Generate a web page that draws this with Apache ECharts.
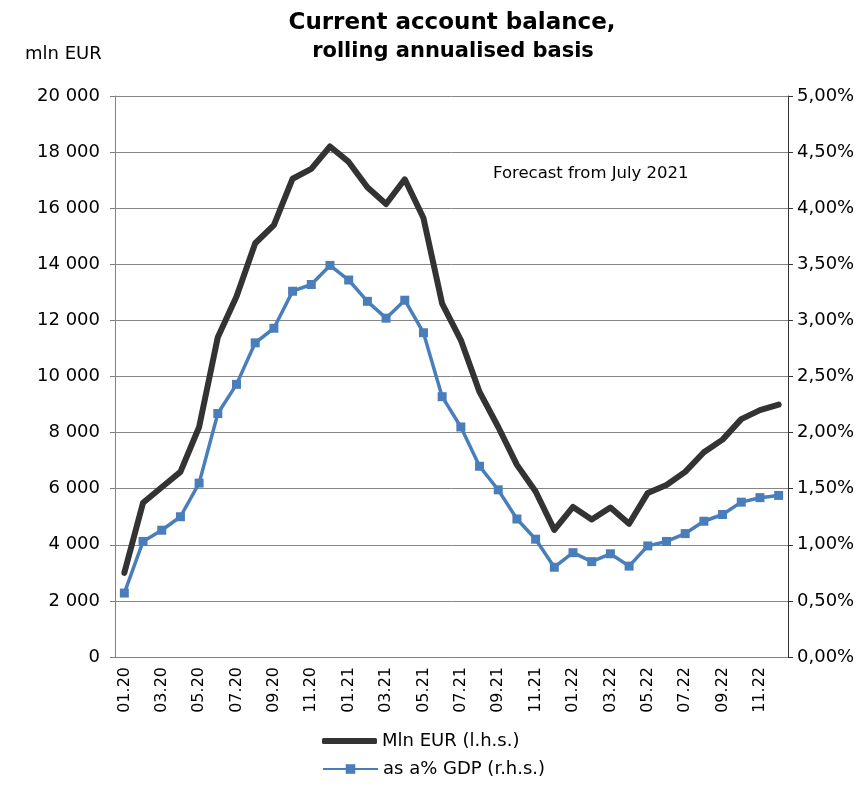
<!DOCTYPE html>
<html>
<head>
<meta charset="utf-8">
<script src="https://cdn.jsdelivr.net/npm/echarts@6/dist/echarts.min.js"></script>
<style>
  html, body { margin: 0; padding: 0; background: #fff; }
  #chart { width: 862px; height: 786px; }
</style>
</head>
<body>
<div id="chart"></div>
<script>
// Monthly periods, Jan 2020 – Dec 2022
const months = [
  '01.20','02.20','03.20','04.20','05.20','06.20','07.20','08.20','09.20','10.20','11.20','12.20',
  '01.21','02.21','03.21','04.21','05.21','06.21','07.21','08.21','09.21','10.21','11.21','12.21',
  '01.22','02.22','03.22','04.22','05.22','06.22','07.22','08.22','09.22','10.22','11.22','12.22'
];

// Current account balance, mln EUR (left axis)
const balanceMlnEur = [
  3000, 5500, 6050, 6600, 8200, 11400, 12850, 14750, 15400, 17050, 17400, 18200,
  17650, 16750, 16150, 17030, 15650, 12600, 11300, 9450, 8200, 6850, 5900, 4530,
  5350, 4900, 5330, 4750, 5850, 6130, 6600, 7300, 7750, 8480, 8800, 9000
];

// Current account balance as % of GDP (right axis)
const balancePctGdp = [
  0.57, 1.03, 1.13, 1.25, 1.55, 2.17, 2.43, 2.80, 2.93, 3.26, 3.32, 3.49,
  3.36, 3.17, 3.02, 3.18, 2.89, 2.32, 2.05, 1.70, 1.49, 1.23, 1.05, 0.80,
  0.93, 0.85, 0.92, 0.81, 0.99, 1.03, 1.10, 1.21, 1.27, 1.38, 1.42, 1.44
];

const seriesNames = ['Mln EUR (l.h.s.)', 'as a% GDP (r.h.s.)'];
const titleLines = ['Current account balance,', 'rolling annualised basis'];
const leftAxisName = 'mln EUR';
const noteText = 'Forecast from July 2021';

const FONT = 'DejaVu Sans';

function fmtThousands(v) {
  return String(v).replace(/\B(?=(\d{3})+(?!\d))/g, ' ');
}
function fmtPct(v) {
  return v.toFixed(2).replace('.', ',') + '%';
}

const chart = echarts.init(document.getElementById('chart'), null, { renderer: 'canvas' });

const legendText = { fontFamily: FONT, fontSize: 18, color: '#000' };

chart.setOption({
  backgroundColor: '#ffffff',
  animation: false,
  textStyle: { fontFamily: FONT, color: '#000' },
  title: [
    {
      text: titleLines[0],
      left: 447, top: 7, textAlign: 'center',
      textStyle: { fontFamily: FONT, fontSize: 23, fontWeight: 'bold', color: '#000' }
    },
    {
      text: titleLines[1],
      left: 448, top: 36, textAlign: 'center',
      textStyle: { fontFamily: FONT, fontSize: 21, fontWeight: 'bold', color: '#000' }
    }
  ],
  graphic: [
    {
      type: 'text', left: 25, top: 45,
      style: { text: leftAxisName, font: '18px ' + FONT, fill: '#000' }
    },
    {
      type: 'text', left: 493, top: 165,
      style: { text: noteText, font: '16.5px ' + FONT, fill: '#000' }
    }
  ],
  legend: [
    {
      left: 322, top: 732, padding: 0,
      itemWidth: 55, itemHeight: 6,
      icon: 'roundRect',
      textStyle: legendText,
      data: [seriesNames[0]]
    },
    {
      left: 322, top: 760, padding: 0,
      itemWidth: 55, itemHeight: 12,
      textStyle: legendText,
      data: [seriesNames[1]]
    }
  ],
  grid: { left: 115, right: 74, top: 96, bottom: 129, containLabel: false },
  xAxis: {
    type: 'category',
    data: months,
    boundaryGap: true,
    axisLine: { lineStyle: { color: '#808080', width: 1 } },
    axisTick: { interval: 1, length: 5, lineStyle: { color: '#808080' } },
    axisLabel: {
      interval: 1, rotate: 90, margin: 10,
      fontFamily: FONT, fontSize: 16, color: '#000'
    }
  },
  yAxis: [
    {
      type: 'value', min: 0, max: 20000, interval: 2000,
      position: 'left',
      axisLine: { show: true, lineStyle: { color: '#808080' } },
      axisTick: { show: true, length: 5, lineStyle: { color: '#808080' } },
      splitLine: { show: true, lineStyle: { color: '#868686', width: 1 } },
      axisLabel: {
        margin: 15, fontFamily: FONT, fontSize: 18, color: '#000',
        formatter: fmtThousands
      }
    },
    {
      type: 'value', min: 0, max: 5, interval: 0.5,
      position: 'right',
      axisLine: { show: true, lineStyle: { color: '#333' } },
      axisTick: { show: true, length: 5, lineStyle: { color: '#333' } },
      splitLine: { show: false },
      axisLabel: {
        margin: 9, fontFamily: FONT, fontSize: 18, color: '#000',
        formatter: fmtPct
      }
    }
  ],
  series: [
    {
      name: seriesNames[0],
      type: 'line',
      yAxisIndex: 0,
      data: balanceMlnEur,
      symbol: 'none',
      lineStyle: { color: '#333333', width: 6, cap: 'round', join: 'round' },
      itemStyle: { color: '#333333' },
      z: 3
    },
    {
      name: seriesNames[1],
      type: 'line',
      yAxisIndex: 1,
      data: balancePctGdp,
      symbol: 'rect',
      symbolSize: 9,
      showAllSymbol: true,
      lineStyle: { color: '#4a7ebb', width: 3.5 },
      itemStyle: { color: '#4a7ebb' },
      z: 4
    }
  ]
});
</script>
</body>
</html>
